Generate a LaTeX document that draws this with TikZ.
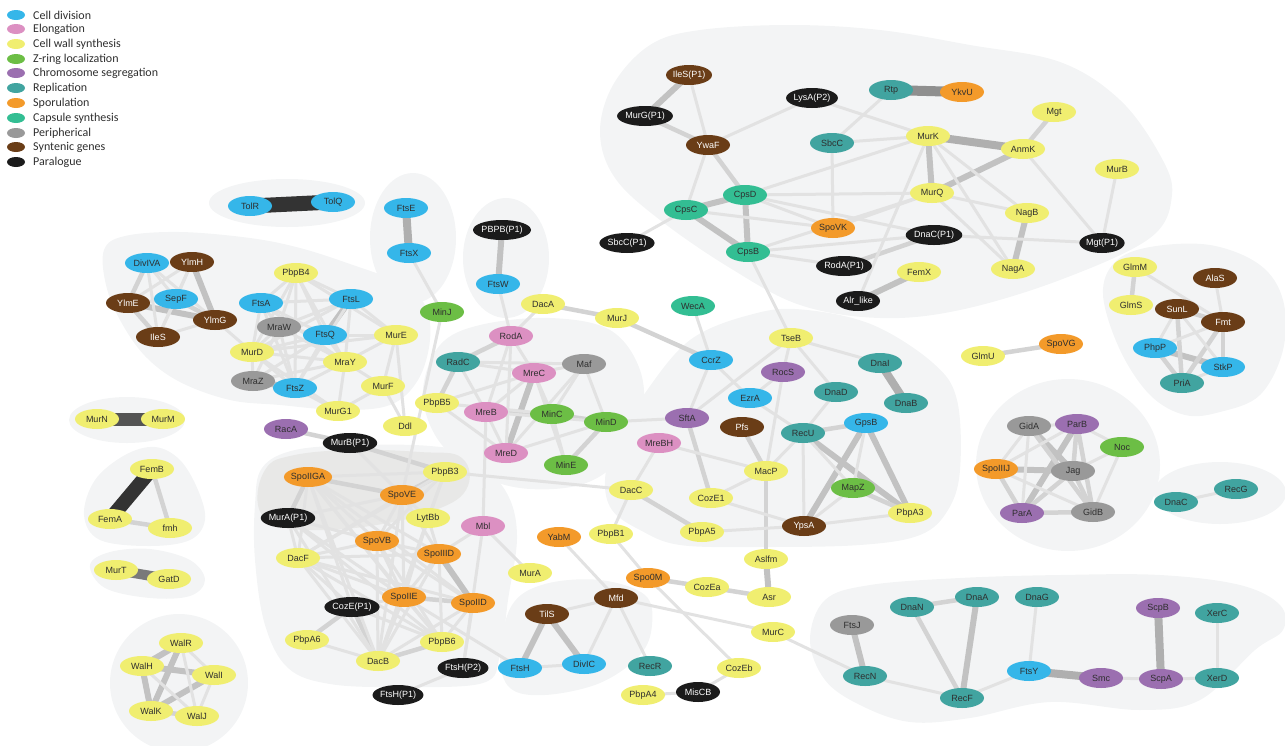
\documentclass[tikz,border=0pt]{standalone}
\usepackage{fontspec}
\setmainfont{Liberation Sans}
\newfontfamily\legfont{Carlito}
\usetikzlibrary{shapes.geometric}
\definecolor{cCD}{HTML}{35B6E9}
\definecolor{cEL}{HTML}{DC90C2}
\definecolor{cCW}{HTML}{F0EE70}
\definecolor{cZR}{HTML}{6CBE45}
\definecolor{cCS}{HTML}{9B6FB0}
\definecolor{cRP}{HTML}{41A4A0}
\definecolor{cSP}{HTML}{F39A2A}
\definecolor{cCA}{HTML}{33BE93}
\definecolor{cPE}{HTML}{999999}
\definecolor{cSY}{HTML}{6A3D17}
\definecolor{cPA}{HTML}{1B1B1B}
\definecolor{txd}{HTML}{2E2E2E}
\definecolor{eA}{HTML}{E2E2E2}
\definecolor{eB}{HTML}{D3D3D3}
\definecolor{eC}{HTML}{C2C2C2}
\definecolor{eD}{HTML}{AFAFAF}
\definecolor{blobc}{HTML}{F3F4F5}
\definecolor{blobd}{HTML}{E8E8E7}
\pgfdeclarelayer{blob}
\pgfdeclarelayer{edges}
\pgfsetlayers{blob,edges,main}
\tikzset{
 nd/.style={ellipse, minimum width=44pt, minimum height=20pt, inner sep=0pt, font=\fontsize{9}{10}\selectfont, text=txd},
 cdv/.style={nd, fill=cCD}, elg/.style={nd, fill=cEL}, cws/.style={nd, fill=cCW},
 zrg/.style={nd, fill=cZR}, chs/.style={nd, fill=cCS}, rep/.style={nd, fill=cRP},
 spo/.style={nd, fill=cSP}, capsn/.style={nd, fill=cCA}, per/.style={nd, fill=cPE},
 syn/.style={nd, fill=cSY, text=white}, parlg/.style={nd, fill=cPA, text=white},
 ea/.style={draw=eA, line width=3pt}, eb/.style={draw=eB, line width=4.5pt},
 ec/.style={draw=eC, line width=6pt}, ed/.style={draw=eD, line width=8pt},
 blobfill/.style={fill=blobc},
 legdot/.style={ellipse, minimum width=18pt, minimum height=10pt, inner sep=0pt},
 legtxt/.style={anchor=west, inner sep=0pt, font=\legfont\fontsize{12}{13}\selectfont, text=txd}
}
\begin{document}
\begin{tikzpicture}[x=1pt,y=-1pt]
\useasboundingbox (0,0) rectangle (1285,745);
% legend
\node[legdot, fill=cCD] (l1) at (16,15) {}; \node[legtxt] (t1) at (33,15) {Cell division};
\node[legdot, fill=cEL] (l2) at (16,29) {}; \node[legtxt] (t2) at (33,29) {Elongation};
\node[legdot, fill=cCW] (l3) at (16,44) {}; \node[legtxt] (t3) at (33,44) {Cell wall synthesis};
\node[legdot, fill=cZR] (l4) at (16,59) {}; \node[legtxt] (t4) at (33,59) {Z-ring localization};
\node[legdot, fill=cCS] (l5) at (16,73) {}; \node[legtxt] (t5) at (33,73) {Chromosome segregation};
\node[legdot, fill=cRP] (l6) at (16,88) {}; \node[legtxt] (t6) at (33,88) {Replication};
\node[legdot, fill=cSP] (l7) at (16,103) {}; \node[legtxt] (t7) at (33,103) {Sporulation};
\node[legdot, fill=cCA] (l8) at (16,118) {}; \node[legtxt] (t8) at (33,118) {Capsule synthesis};
\node[legdot, fill=cPE] (l9) at (16,133) {}; \node[legtxt] (t9) at (33,133) {Peripherical};
\node[legdot, fill=cSY] (l10) at (16,147) {}; \node[legtxt] (t10) at (33,147) {Syntenic genes};
\node[legdot, fill=cPA] (l11) at (16,162) {}; \node[legtxt] (t11) at (33,162) {Paralogue};

% nodes
\node[cdv] (TolR) at (250,206) {TolR};
\node[cdv] (TolQ) at (333,202) {TolQ};
\node[cdv] (FtsE) at (406,208) {FtsE};
\node[cdv] (FtsX) at (409,253) {FtsX};
\node[parlg] (PBPBP1) at (502,230) {PBPB(P1)};
\node[cdv] (FtsW) at (498,284) {FtsW};
\node[syn] (IleSP1) at (689,75) {IleS(P1)};
\node[parlg] (MurGP1) at (645,116) {MurG(P1)};
\node[parlg] (LysAP2) at (812,98) {LysA(P2)};
\node[rep] (Rtp) at (891,90) {Rtp};
\node[spo] (YkvU) at (962,92) {YkvU};
\node[cws] (Mgt) at (1054,112) {Mgt};
\node[syn] (YwaF) at (708,145) {YwaF};
\node[rep] (SbcC) at (832,143) {SbcC};
\node[cws] (MurK) at (928,136) {MurK};
\node[cws] (AnmK) at (1023,149) {AnmK};
\node[cws] (MurB) at (1117,169) {MurB};
\node[capsn] (CpsD) at (745,195) {CpsD};
\node[capsn] (CpsC) at (686,210) {CpsC};
\node[cws] (MurQ) at (932,193) {MurQ};
\node[spo] (SpoVK) at (833,228) {SpoVK};
\node[cws] (NagB) at (1027,213) {NagB};
\node[parlg] (DnaCP1) at (934,235) {DnaC(P1)};
\node[parlg] (MgtP1) at (1102,243) {Mgt(P1)};
\node[parlg] (SbcCP1) at (627,243) {SbcC(P1)};
\node[capsn] (CpsB) at (748,252) {CpsB};
\node[parlg] (RodAP1) at (844,266) {RodA(P1)};
\node[cws] (NagA) at (1013,269) {NagA};
\node[cws] (FemX) at (919,272) {FemX};
\node[parlg] (Alrlike) at (858,301) {Alr\_like};
\node[cws] (GlmM) at (1135,267) {GlmM};
\node[syn] (AlaS) at (1215,278) {AlaS};
\node[cws] (GlmS) at (1131,305) {GlmS};
\node[syn] (SunL) at (1177,309) {SunL};
\node[syn] (Fmt) at (1223,322) {Fmt};
\node[cdv] (PhpP) at (1155,348) {PhpP};
\node[cdv] (StkP) at (1223,367) {StkP};
\node[rep] (PriA) at (1182,383) {PriA};
\node[cws] (GlmU) at (983,356) {GlmU};
\node[spo] (SpoVG) at (1061,344) {SpoVG};
\node[cdv] (DivIVA) at (147,263) {DivIVA};
\node[syn] (YlmH) at (192,262) {YlmH};
\node[cws] (PbpB4) at (296,273) {PbpB4};
\node[cdv] (SepF) at (176,299) {SepF};
\node[syn] (YlmE) at (128,303) {YlmE};
\node[cdv] (FtsA) at (261,303) {FtsA};
\node[cdv] (FtsL) at (351,299) {FtsL};
\node[syn] (YlmG) at (215,320) {YlmG};
\node[syn] (IleS) at (158,337) {IleS};
\node[per] (MraW) at (279,327) {MraW};
\node[cdv] (FtsQ) at (325,335) {FtsQ};
\node[cws] (MurE) at (396,335) {MurE};
\node[zrg] (MinJ) at (442,312) {MinJ};
\node[cws] (DacA) at (543,304) {DacA};
\node[cws] (MurJ) at (617,318) {MurJ};
\node[capsn] (WecA) at (693,306) {WecA};
\node[elg] (RodA) at (511,336) {RodA};
\node[cws] (MurD) at (252,352) {MurD};
\node[cws] (MraY) at (345,362) {MraY};
\node[rep] (RadC) at (458,362) {RadC};
\node[elg] (MreC) at (534,373) {MreC};
\node[per] (Maf) at (584,364) {Maf};
\node[cdv] (CcrZ) at (711,360) {CcrZ};
\node[cws] (TseB) at (791,338) {TseB};
\node[rep] (DnaI) at (880,363) {DnaI};
\node[per] (MraZ) at (253,381) {MraZ};
\node[cdv] (FtsZ) at (295,388) {FtsZ};
\node[cws] (MurF) at (383,386) {MurF};
\node[cws] (PbpB5) at (437,403) {PbpB5};
\node[chs] (RocS) at (783,372) {RocS};
\node[cws] (MurG1) at (338,411) {MurG1};
\node[rep] (DnaD) at (836,392) {DnaD};
\node[rep] (DnaB) at (906,403) {DnaB};
\node[cdv] (EzrA) at (750,398) {EzrA};
\node[elg] (MreB) at (486,412) {MreB};
\node[zrg] (MinC) at (552,414) {MinC};
\node[zrg] (MinD) at (606,422) {MinD};
\node[chs] (SftA) at (687,418) {SftA};
\node[cws] (Ddl) at (405,426) {Ddl};
\node[chs] (RacA) at (286,429) {RacA};
\node[parlg] (MurBP1) at (350,443) {MurB(P1)};
\node[syn] (Pfs) at (742,427) {Pfs};
\node[rep] (RecU) at (803,433) {RecU};
\node[cdv] (GpsB) at (866,423) {GpsB};
\node[elg] (MreBH) at (659,443) {MreBH};
\node[elg] (MreD) at (506,453) {MreD};
\node[zrg] (MinE) at (566,465) {MinE};
\node[cws] (PbpB3) at (445,472) {PbpB3};
\node[spo] (SpoIIGA) at (308,477) {SpoIIGA};
\node[cws] (MacP) at (766,471) {MacP};
\node[spo] (SpoVE) at (402,495) {SpoVE};
\node[cws] (DacC) at (631,490) {DacC};
\node[cws] (CozE1) at (711,498) {CozE1};
\node[zrg] (MapZ) at (853,488) {MapZ};
\node[cws] (PbpA3) at (910,513) {PbpA3};
\node[cws] (LytBb) at (428,518) {LytBb};
\node[parlg] (MurAP1) at (288,518) {MurA(P1)};
\node[elg] (Mbl) at (483,526) {Mbl};
\node[syn] (YpsA) at (804,526) {YpsA};
\node[cws] (PbpA5) at (702,532) {PbpA5};
\node[spo] (SpoVB) at (377,541) {SpoVB};
\node[spo] (YabM) at (559,537) {YabM};
\node[cws] (PbpB1) at (611,534) {PbpB1};
\node[cws] (DacF) at (298,558) {DacF};
\node[spo] (SpoIIID) at (439,554) {SpoIIID};
\node[cws] (Aslfm) at (766,559) {Aslfm};
\node[cws] (MurA) at (530,573) {MurA};
\node[spo] (Spo0M) at (648,578) {Spo0M};
\node[cws] (CozEa) at (707,587) {CozEa};
\node[spo] (SpoIIE) at (404,597) {SpoIIE};
\node[spo] (SpoIID) at (473,603) {SpoIID};
\node[parlg] (CozEP1) at (352,607) {CozE(P1)};
\node[cws] (Asr) at (769,597) {Asr};
\node[syn] (Mfd) at (616,598) {Mfd};
\node[syn] (TilS) at (547,614) {TilS};
\node[cws] (MurC) at (773,632) {MurC};
\node[cws] (PbpA6) at (307,640) {PbpA6};
\node[cws] (PbpB6) at (442,642) {PbpB6};
\node[cws] (DacB) at (378,661) {DacB};
\node[parlg] (FtsHP2) at (463,668) {FtsH(P2)};
\node[cdv] (FtsH) at (520,668) {FtsH};
\node[cdv] (DivIC) at (584,664) {DivIC};
\node[rep] (RecR) at (650,666) {RecR};
\node[cws] (CozEb) at (739,668) {CozEb};
\node[parlg] (FtsHP1) at (398,695) {FtsH(P1)};
\node[parlg] (MisCB) at (698,692) {MisCB};
\node[cws] (PbpA4) at (643,695) {PbpA4};
\node[cws] (MurN) at (97,419) {MurN};
\node[cws] (MurM) at (163,419) {MurM};
\node[cws] (FemB) at (152,469) {FemB};
\node[cws] (FemA) at (110,519) {FemA};
\node[cws] (fmh) at (170,528) {fmh};
\node[cws] (MurT) at (116,570) {MurT};
\node[cws] (GatD) at (169,579) {GatD};
\node[cws] (WalR) at (181,643) {WalR};
\node[cws] (WalH) at (142,666) {WalH};
\node[cws] (WalI) at (214,675) {WalI};
\node[cws] (WalK) at (151,711) {WalK};
\node[cws] (WalJ) at (197,716) {WalJ};
\node[per] (GidA) at (1029,426) {GidA};
\node[chs] (ParB) at (1077,424) {ParB};
\node[zrg] (Noc) at (1122,447) {Noc};
\node[spo] (SpoIIIJ) at (996,469) {SpoIIIJ};
\node[per] (Jag) at (1073,471) {Jag};
\node[rep] (DnaC) at (1176,502) {DnaC};
\node[rep] (RecG) at (1236,489) {RecG};
\node[chs] (ParA) at (1022,513) {ParA};
\node[per] (GidB) at (1093,512) {GidB};
\node[per] (FtsJ) at (852,625) {FtsJ};
\node[rep] (DnaN) at (912,607) {DnaN};
\node[rep] (DnaA) at (977,597) {DnaA};
\node[rep] (DnaG) at (1037,597) {DnaG};
\node[chs] (ScpB) at (1158,608) {ScpB};
\node[rep] (XerC) at (1217,613) {XerC};
\node[rep] (RecN) at (865,676) {RecN};
\node[rep] (RecF) at (962,698) {RecF};
\node[cdv] (FtsY) at (1029,671) {FtsY};
\node[chs] (Smc) at (1101,678) {Smc};
\node[chs] (ScpA) at (1161,679) {ScpA};
\node[rep] (XerD) at (1217,678) {XerD};

% background blobs
\begin{pgfonlayer}{blob}
\fill[blobfill] (287,203) ellipse [x radius=78, y radius=24];
\fill[blobfill] (413,238) ellipse [x radius=43, y radius=65];
\fill[blobfill] (506,258) ellipse [x radius=43, y radius=60];
\fill[blobfill] (127,420) ellipse [x radius=58, y radius=23];
\fill[blobfill] (179,683) circle [radius=69];
\fill[blobfill] (1068,465) ellipse [x radius=92, y radius=86];
\fill[blobfill] (1220,493) ellipse [x radius=66, y radius=31];
\fill[blobfill] plot[smooth cycle, tension=0.6] coordinates {(650,45) (700,30) (790,25) (880,30) (970,45) (1060,62) (1120,100) (1160,155) (1172,195) (1150,238) (1060,280) (960,310) (880,318) (800,305) (730,268) (660,220) (615,178) (600,133) (613,85)};
\fill[blobfill] plot[smooth cycle, tension=0.6] coordinates {(104,250) (125,236) (180,232) (250,238) (300,248) (350,264) (400,283) (425,305) (430,340) (418,380) (390,405) (340,410) (280,405) (230,400) (180,382) (145,356) (120,320) (106,285)};
\fill[blobfill] plot[smooth cycle, tension=0.6] coordinates {(84,515) (95,480) (125,455) (155,447) (180,460) (198,490) (205,520) (190,540) (150,546) (100,540)};
\fill[blobfill] plot[smooth cycle, tension=0.6] coordinates {(90,565) (110,552) (150,549) (190,560) (205,580) (190,596) (150,598) (105,588)};
\fill[blobfill] plot[smooth cycle, tension=0.6] coordinates {(423,390) (440,345) (480,325) (550,318) (610,330) (640,370) (642,420) (620,460) (580,485) (520,488) (470,470) (435,435)};
\fill[blobfill] plot[smooth cycle, tension=0.6] coordinates {(605,480) (615,440) (640,400) (690,340) (757,313) (807,310) (873,325) (933,363) (957,400) (960,470) (948,510) (920,535) (860,545) (760,547) (680,545) (640,530) (612,510)};
\fill[blobfill] plot[smooth cycle, tension=0.6] coordinates {(500,655) (512,605) (545,584) (600,580) (645,595) (652,625) (640,655) (600,683) (545,695) (510,688)};
\fill[blobfill] plot[smooth cycle, tension=0.6] coordinates {(1103,295) (1115,262) (1150,247) (1210,245) (1260,265) (1283,300) (1283,350) (1260,395) (1220,412) (1185,415) (1150,395) (1120,350)};
\fill[blobfill] plot[smooth cycle, tension=0.6] coordinates {(810,640) (825,600) (870,585) (960,578) (1060,575) (1160,575) (1240,585) (1280,605) (1283,630) (1255,650) (1200,700) (1140,710) (1050,702) (970,718) (910,722) (860,705) (825,680)};
\fill[blobfill] plot[smooth cycle, tension=0.6] coordinates {(255,505) (262,468) (295,450) (360,445) (430,446) (468,455) (505,490) (517,535) (508,600) (500,655) (483,683) (400,687) (330,684) (288,668) (265,625) (255,560)};
\fill[blobd] plot[smooth cycle, tension=0.7] coordinates {(258,505) (265,470) (290,456) (350,450) (420,452) (462,458) (466,490) (430,512) (370,526) (310,530) (275,524)};
\end{pgfonlayer}

% edges
\begin{pgfonlayer}{edges}
\draw[draw=black!80, line width=15pt] (TolR.center) -- (TolQ.center);
\draw[draw=black!67, line width=13pt] (MurN.center) -- (MurM.center);
\draw[draw=black!80, line width=14pt] (FemB.center) -- (FemA.center);
\draw[draw=black!52, line width=10pt] (MurT.center) -- (GatD.center);
\draw[draw=black!44, line width=10pt] (Rtp.center) -- (YkvU.center);
\foreach \a/\b in {FtsE/FtsX, MurK/AnmK, DnaI/DnaB, FtsY/Smc, ScpB/ScpA}
  \draw[ed] (\a.center) -- (\b.center);
\foreach \a/\b in {PBPBP1/FtsW, IleSP1/MurGP1, MurK/MurQ, AnmK/MurQ, NagB/NagA, CpsC/CpsD, CpsC/CpsB, CpsD/CpsB, Alrlike/FemX, MreC/MreD, RecU/PbpA3, GpsB/YpsA, GpsB/PbpA3, Asr/Aslfm, TilS/FtsH, TilS/DivIC, SpoIIID/SpoIID, PhpP/StkP, DnaA/RecF, FtsJ/RecN, YlmE/YlmG, YlmH/YlmG, MraZ/FtsZ, FtsL/FtsQ, GidA/Jag, SpoIIIJ/Jag, ParB/ParA, WalR/WalH, WalR/WalK, WalH/WalI, WalH/WalK, WalI/WalK}
  \draw[ec] (\a.center) -- (\b.center);
\foreach \a/\b in {MurGP1/YwaF, YwaF/CpsD, AnmK/Mgt, DnaCP1/RodAP1, RacA/MurBP1, MurBP1/PbpB3, DacA/MurJ, MurJ/CcrZ, RodA/RadC, RadC/PbpB5, MreB/MinC, MinC/MinD, MinD/MinE, RecU/GpsB, MapZ/PbpA3, MacP/Pfs, MacP/Aslfm, SftA/CozE1, DacC/PbpA5, Spo0M/CozEa, CozEa/Asr, GlmM/GlmS, SunL/Fmt, SunL/PriA, Fmt/PriA, Fmt/StkP, PhpP/PriA, GlmU/SpoVG, DnaN/DnaA, DnaN/RecF, FemB/fmh, FemA/fmh, WalK/WalJ, SpoIIGA/SpoVE, SpoIIGA/MurAP1, SpoVE/PbpB3, SpoIIE/SpoIID, CozEP1/DacB, CozEP1/PbpA6, DacB/PbpB6, GidA/GidB, ParB/Jag, ParB/GidB, SpoIIIJ/ParA, Jag/ParA, Jag/GidB, ParA/GidB, DivIVA/YlmE, SepF/YlmG, YlmE/IleS}
  \draw[eb] (\a.center) -- (\b.center);
\foreach \a/\b in {FtsX/MinJ, MinJ/SpoVE, FtsW/RodA, IleSP1/YwaF, YwaF/LysAP2, YwaF/CpsC, LysAP2/MurK, Rtp/SbcC, SbcC/MurK, SbcC/SpoVK, MurK/NagB, MurK/NagA, MurK/Alrlike, MurK/CpsD, AnmK/MgtP1, MurB/MgtP1, MurQ/NagB, MurQ/NagA, MurQ/CpsD, MurQ/SpoVK, MurQ/CpsB, CpsC/SbcCP1, CpsC/SpoVK, CpsD/SpoVK, CpsD/DnaCP1, CpsB/RodAP1, CpsB/DnaCP1, CpsB/TseB, DnaCP1/MgtP1,
  DivIVA/SepF, DivIVA/IleS, DivIVA/YlmG, YlmH/SepF, YlmH/YlmE, YlmH/IleS, YlmE/SepF, SepF/IleS, YlmG/IleS, YlmG/MurD,
  PbpB4/FtsA, PbpB4/FtsL, PbpB4/MraW, PbpB4/FtsQ, PbpB4/MurD, PbpB4/MraY, PbpB4/FtsZ, PbpB4/MurE, FtsA/MraW, FtsA/FtsQ, FtsA/FtsL, FtsA/MurD, FtsA/MraY, FtsA/FtsZ, FtsL/MraW, FtsL/MurD, FtsL/MraY, FtsL/MurE, FtsL/FtsZ, MraW/FtsQ, MraW/MurD, MraW/MraY, MraW/MraZ, MraW/FtsZ, FtsQ/MurD, FtsQ/MraY, FtsQ/FtsZ, FtsQ/MurE, FtsQ/MraZ, MurD/MraY, MurD/MraZ, MurD/FtsZ, MurD/MurE, MraY/MraZ, MraY/FtsZ, MraY/MurE, MraY/MurF, MraY/MurG1, FtsZ/MurG1, MurE/MurF, MurF/MurG1, MurD/MurG1, MurE/Ddl, MurF/Ddl, MreB/Mbl,
  RodA/DacA, RodA/MreC, RodA/MreB, RodA/MreD, RadC/MreC, RadC/Maf, RadC/MreB, MreC/MinC, MreC/MinE, MreC/MreB, MreC/Maf, MreC/PbpB5, Maf/MinD, Maf/MinC, Maf/MreD, MreB/MreD, MreB/MinD, MinC/MinE, MinD/MreD, PbpB5/MreD, PbpB5/MinC, MinD/SftA, PbpB3/DacC,
  WecA/CcrZ, CcrZ/SftA, CcrZ/EzrA, TseB/RocS, TseB/DnaD, TseB/DnaI, TseB/SftA, RocS/EzrA, RocS/MacP, DnaD/RecU, EzrA/RecU, RecU/YpsA, RecU/MapZ, GpsB/MapZ, MapZ/YpsA, YpsA/PbpA3, YpsA/PbpA5, YpsA/CozE1, MacP/CozE1, MreBH/MacP, MacP/RecU, MreBH/DacC, DacC/PbpB1, PbpB1/Spo0M, Spo0M/CozEb, Mfd/MurC, MurC/RecN, CozEb/MisCB, MisCB/PbpA4, Mfd/TilS, Mfd/DivIC, Mfd/RecR, FtsH/DivIC, Mbl/MurA, Mbl/SpoIIID, Mbl/FtsHP2, YabM/Mfd,
  MurBP1/SpoVE, SpoIIGA/PbpB3, SpoIIGA/SpoVB, SpoIIGA/DacF, SpoIIGA/SpoIIID, SpoIIGA/SpoIIE, SpoIIGA/SpoIID, SpoIIGA/DacB, SpoIIGA/PbpB6, SpoIIGA/CozEP1, SpoVE/LytBb, SpoVE/SpoVB, SpoVE/DacF, SpoVE/SpoIIID, SpoVE/SpoIIE, SpoVE/DacB, SpoVE/MurAP1, PbpB3/LytBb, PbpB3/DacF, PbpB3/SpoVB, PbpB3/DacB, MurAP1/DacF, MurAP1/SpoVB, MurAP1/DacB, MurAP1/SpoIIE, MurAP1/PbpB6, SpoVB/DacF, SpoVB/SpoIIID, SpoVB/SpoIIE, SpoVB/DacB, SpoVB/PbpB6, SpoVB/SpoIID, DacF/SpoIIE, DacF/DacB, DacF/SpoIID, DacF/PbpB6, DacF/CozEP1, DacF/SpoIIID, SpoIIID/SpoIIE, SpoIIID/DacB, SpoIIID/LytBb, SpoIIID/PbpB6, SpoIIE/DacB, SpoIIE/PbpB6, SpoIIE/CozEP1, SpoIID/PbpB6, SpoIID/FtsHP2, SpoIID/DacB, CozEP1/PbpB6, PbpA6/DacB, FtsHP2/FtsHP1, LytBb/SpoIIE, LytBb/DacB, SpoIIE/FtsH,
  GlmM/Fmt, AlaS/Fmt, SunL/PhpP, SunL/StkP, Fmt/PhpP, PriA/StkP,
  GidA/ParB, GidA/SpoIIIJ, GidA/ParA, ParB/Noc, ParB/SpoIIIJ, Noc/Jag, Noc/GidB, SpoIIIJ/GidB,
  DnaC/RecG, DnaG/FtsY, FtsY/RecF, Smc/ScpA, ScpA/XerD, XerC/XerD, RecN/RecF,
  WalR/WalI, WalR/WalJ, WalH/WalJ, WalI/WalJ}
  \draw[ea] (\a.center) -- (\b.center);
\end{pgfonlayer}
\end{tikzpicture}
\end{document}
